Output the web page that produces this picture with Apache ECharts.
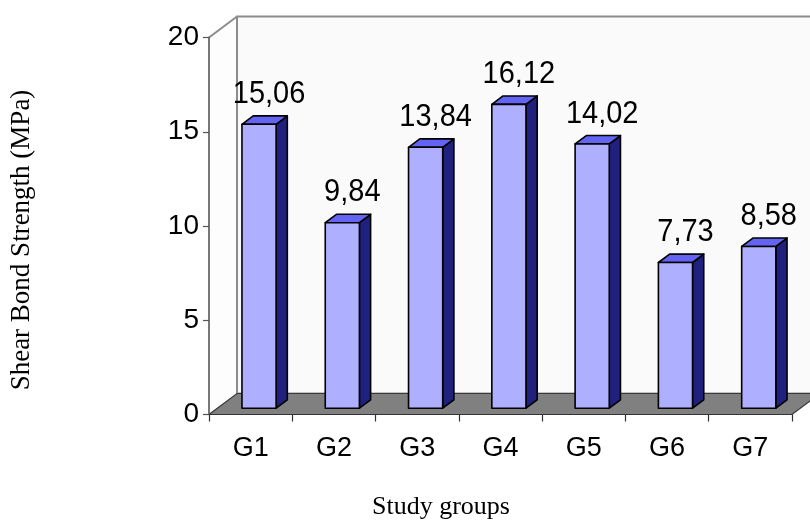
<!DOCTYPE html>
<html><head><meta charset="utf-8">
<script src="https://cdn.jsdelivr.net/npm/echarts@6/dist/echarts.min.js"></script>
<style>html,body{margin:0;padding:0;background:#fff}#c{width:810px;height:520px}</style>
</head><body><div id="c"></div>
<script>
// ---- data ----
const categories = ['G1', 'G2', 'G3', 'G4', 'G5', 'G6', 'G7'];
const values = [15.06, 9.84, 13.84, 16.12, 14.02, 7.73, 8.58];
const yMin = 0, yMax = 20, yInterval = 5;
const xTitle = 'Study groups';
const yTitle = 'Shear Bond Strength (MPa)';

// ---- style constants (3D depth look) ----
const DX = 28, DY = -21;           // depth of the chart box in pixels
const FRONT = '#afafff', TOP = '#6464f4', SIDE = '#20207f';

function fmt(v) { return v.toFixed(2).replace('.', ','); }

function renderWalls(params, api) {
  const c = params.coordSys;
  const L = c.x, R = c.x + c.width, T = c.y, B = c.y + c.height;
  return {
    type: 'group',
    children: [
      { type: 'polygon', shape: { points: [[L, T], [L + DX, T + DY], [L + DX, B + DY], [L, B]] },
        style: { fill: '#fdfdfd', stroke: null } },
      { type: 'polygon', shape: { points: [[L + DX, T + DY], [R + DX, T + DY], [R + DX, B + DY], [L + DX, B + DY]] },
        style: { fill: '#fafafa', stroke: '#8c8c8c', lineWidth: 2 } },
      { type: 'line', shape: { x1: L, y1: T, x2: L + DX, y2: T + DY },
        style: { stroke: '#8c8c8c', lineWidth: 2 } },
      { type: 'polygon', shape: { points: [[L, B], [R, B], [R + DX, B + DY], [L + DX, B + DY]] },
        style: { fill: '#808080', stroke: '#3a3a3a', lineWidth: 1.2 } }
    ]
  };
}

function renderBar(params, api) {
  const i = api.value(0), v = api.value(1);
  const base = api.coord([i, 0]);
  const top = api.coord([i, v]);
  const bw = api.size([1, 0])[0] * 0.41;
  const fx = DX * 0.3, fy = DY * 0.3, bx = DX * 0.4, by = DY * 0.4;
  const x0 = base[0] - bw / 2 + fx, x1 = x0 + bw;
  const yb = base[1] + fy, yt = top[1] + fy;
  const st = (fill) => ({ fill: fill, stroke: '#000', lineWidth: 1.6, lineJoin: 'round' });
  return {
    type: 'group',
    children: [
      { type: 'polygon', shape: { points: [[x1, yt], [x1 + bx, yt + by], [x1 + bx, yb + by], [x1, yb]] }, style: st(SIDE) },
      { type: 'polygon', shape: { points: [[x0, yt], [x0 + bx, yt + by], [x1 + bx, yt + by], [x1, yt]] }, style: st(TOP) },
      { type: 'polygon', shape: { points: [[x0, yt], [x1, yt], [x1, yb], [x0, yb]] }, style: st(FRONT) },
      { type: 'text', x: (x0 + x1) / 2 + 10, y: yt + by - 6, scaleY: 1.08,
        style: { text: fmt(v), fill: '#000', font: '29px "Liberation Sans", Arial, sans-serif',
                 align: 'center', verticalAlign: 'bottom' } }
    ]
  };
}

const chart = echarts.init(document.getElementById('c'), null, { renderer: 'canvas' });
chart.setOption({
  backgroundColor: '#ffffff',
  animation: false,
  grid: { left: 209, right: 18, top: 37.5, bottom: 105.5, containLabel: false, outerBoundsMode: 'none' },
  xAxis: {
    type: 'category', data: categories, z: 5,
    axisLine: { show: true, lineStyle: { color: '#333', width: 1.2 } },
    axisTick: { show: true, length: 7, lineStyle: { color: '#333', width: 1.2 } },
    axisLabel: { fontSize: 27, color: '#000', fontFamily: '"Liberation Sans", Arial, sans-serif', margin: 21 },
    splitLine: { show: false }
  },
  yAxis: {
    type: 'value', min: yMin, max: yMax, interval: yInterval, z: 5,
    axisLine: { show: true, lineStyle: { color: '#555', width: 1.6 } },
    axisTick: { show: true, length: 6, lineStyle: { color: '#555', width: 1.2 } },
    axisLabel: { fontSize: 28, color: '#000', fontFamily: '"Liberation Sans", Arial, sans-serif', margin: 10 },
    splitLine: { show: false }
  },
  graphic: [
    { type: 'text', left: 372, top: 494,
      style: { text: xTitle, fill: '#000', font: '26px "Liberation Serif", "Times New Roman", serif' } },
    { type: 'text', x: 22, y: 240, rotation: Math.PI / 2,
      style: { text: yTitle, fill: '#000', font: '27px "Liberation Serif", "Times New Roman", serif',
               align: 'center', verticalAlign: 'middle' } }
  ],
  series: [
    { type: 'custom', name: 'walls', z: 0, silent: true, renderItem: renderWalls, data: [[0, 0]] },
    { type: 'custom', name: 'bars', z: 3, renderItem: renderBar,
      data: values.map((v, i) => [i, v]) }
  ]
});
</script></body></html>
